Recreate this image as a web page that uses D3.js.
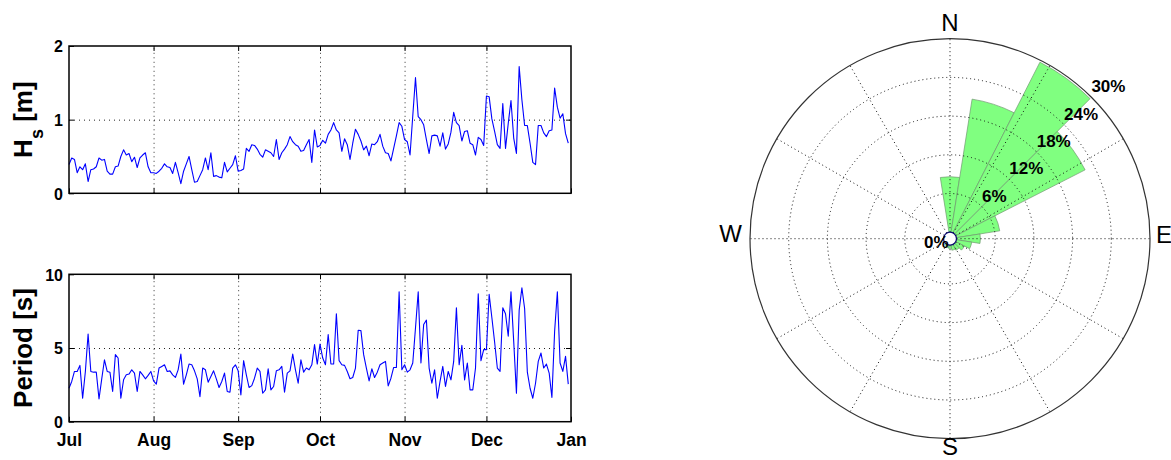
<!DOCTYPE html>
<html>
<head>
<meta charset="utf-8">
<script src="https://cdn.jsdelivr.net/npm/d3@7"></script>
<style>
  body { margin: 0; background: #fff; }
  svg { display: block; font-family: "Liberation Sans", Arial, Helvetica, sans-serif; }
</style>
</head>
<body>
<svg id="svg" width="1171" height="460"></svg>
<script>
const svg = d3.select("#svg");

// month tick labels, Jul 1 -> Jan 1
const monthLabels = ["Jul", "Aug", "Sep", "Oct", "Nov", "Dec", "Jan"];

// daily significant wave height [m]
const hsValues = [
  0.39, 0.48, 0.46, 0.28, 0.36, 0.32, 0.40, 0.16, 0.32, 0.33,
  0.36, 0.48, 0.45, 0.46, 0.30, 0.26, 0.26, 0.36, 0.37, 0.50,
  0.59, 0.52, 0.54, 0.43, 0.49, 0.35, 0.48, 0.52, 0.55, 0.36,
  0.28, 0.28, 0.27, 0.30, 0.34, 0.40, 0.36, 0.35, 0.27, 0.42,
  0.28, 0.13, 0.30, 0.40, 0.50, 0.32, 0.15, 0.16, 0.24, 0.32,
  0.48, 0.32, 0.55, 0.23, 0.24, 0.22, 0.21, 0.42, 0.29, 0.34,
  0.39, 0.51, 0.30, 0.31, 0.33, 0.61, 0.57, 0.66, 0.65, 0.60,
  0.53, 0.49, 0.59, 0.57, 0.55, 0.50, 0.73, 0.46, 0.55, 0.60,
  0.66, 0.77, 0.70, 0.66, 0.64, 0.57, 0.58, 0.66, 0.73, 0.42,
  0.86, 0.63, 0.65, 0.72, 0.68, 0.80, 0.86, 0.96, 0.86, 0.82,
  0.57, 0.74, 0.66, 0.46, 0.68, 0.87, 0.80, 0.71, 0.59, 0.64,
  0.51, 0.67, 0.66, 0.70, 0.80, 0.64, 0.55, 0.54, 0.44, 0.61,
  0.78, 0.96, 0.91, 0.73, 0.70, 0.52, 1.05, 1.57, 1.04, 1.00,
  0.93, 0.73, 0.54, 0.78, 0.79, 0.78, 0.64, 0.82, 0.60, 0.67,
  0.83, 1.10, 0.96, 0.92, 0.71, 0.84, 0.85, 0.68, 0.66, 0.52,
  0.76, 0.73, 0.65, 1.32, 1.31, 1.01, 0.84, 0.66, 0.61, 1.22,
  0.61, 0.95, 1.26, 0.75, 0.54, 1.72, 1.27, 0.92, 0.92, 0.68,
  0.42, 0.39, 0.92, 0.92, 0.82, 0.77, 0.85, 0.86, 1.43, 1.17,
  1.02, 1.08, 0.81, 0.68
];

// daily wave period [s]
const periodValues = [
  2.27, 2.73, 3.41, 3.41, 3.82, 1.59, 3.41, 5.95, 3.41, 3.36,
  3.36, 1.55, 2.91, 4.20, 3.41, 3.36, 2.05, 4.55, 4.32, 1.59,
  2.84, 3.18, 3.23, 3.52, 3.30, 2.05, 3.41, 3.18, 2.91, 3.14,
  3.41, 2.77, 2.55, 3.64, 3.75, 3.86, 3.41, 3.45, 3.18, 3.00,
  3.52, 4.59, 2.55, 3.18, 3.91, 3.86, 3.45, 2.91, 1.70, 3.64,
  3.52, 2.68, 3.07, 3.45, 2.91, 2.32, 2.73, 3.30, 2.05, 2.00,
  3.64, 3.86, 3.45, 1.82, 4.14, 3.18, 2.32, 2.45, 2.95, 3.64,
  3.41, 1.93, 2.16, 3.59, 2.16, 2.39, 3.45, 3.52, 3.75, 2.00,
  3.30, 3.45, 4.59, 3.52, 2.61, 4.20, 3.36, 3.64, 3.52, 3.86,
  5.23, 3.91, 5.27, 4.32, 3.86, 5.91, 3.91, 3.91, 7.32, 4.14,
  3.86, 3.82, 3.41, 2.91, 3.00, 3.64, 6.20, 6.18, 4.55, 3.64,
  2.77, 3.59, 3.00, 3.36, 3.86, 3.98, 4.09, 2.43, 2.95, 3.68,
  3.68, 8.82, 3.52, 3.86, 3.36, 3.52, 3.98, 6.36, 8.82, 3.98,
  6.59, 6.89, 3.64, 2.61, 3.52, 1.59, 2.73, 3.75, 2.39, 3.41,
  2.84, 4.09, 7.73, 3.86, 5.18, 2.84, 3.98, 2.16, 2.16, 3.64,
  8.68, 4.14, 4.89, 4.89, 8.64, 7.05, 5.41, 3.64, 3.41, 7.73,
  7.32, 5.80, 8.82, 5.45, 1.93, 7.55, 9.09, 7.68, 3.36, 2.27,
  1.59, 2.61, 4.09, 4.66, 3.64, 3.91, 3.30, 1.64, 6.14, 8.82,
  3.98, 3.41, 4.43, 2.55
];

// wind rose: direction bin centres (deg from N, 18 deg bins) and frequency [%]
const roseDirections = [0, 18, 36, 54, 72, 90, 108, 126, 144, 162, 180, 198, 216, 234, 252, 270, 288, 306, 324, 342];
const roseFrequency = [8.6, 20.9, 29.7, 22.5, 6.8, 3.7, 2.4, 1.5, 1.0, 0.8, 0.5, 0.4, 0.2, 0, 0, 0, 0, 0, 0, 0];
const ringValues = [0, 6, 12, 18, 24, 30];
const compassLabels = ["N", "E", "S", "W"];

const font = '"Liberation Sans", Arial, Helvetica, sans-serif';

// ---------- time series panels ----------
const dayToDate = (i) => new Date(Date.UTC(2013, 6, 1 + i));
const monthTicks = monthLabels.map((m, i) => new Date(Date.UTC(2013, 6 + i, 1)));

const left = 69;
const right = 571;
const x = d3.scaleUtc().domain([monthTicks[0], monthTicks[monthTicks.length - 1]]).range([left, right]);

function drawPanel({ top, bottom, values, yMax, yTicks, label, showX }) {
  const y = d3.scaleLinear().domain([0, yMax]).range([bottom, top]);
  const g = svg.append("g");
  const h = bottom - top;
  const w = right - left;

  // dotted grid
  const innerX = monthTicks.slice(1, -1);
  const innerY = yTicks.slice(1, -1);
  g.append("g")
    .attr("transform", `translate(0,${bottom})`)
    .call(d3.axisBottom(x).tickValues(innerX).tickSizeInner(-h).tickSizeOuter(0).tickFormat(""))
    .call((a) => a.select(".domain").remove())
    .call((a) => a.selectAll("line").attr("stroke", "#333").attr("stroke-dasharray", "1,3.5"));
  g.append("g")
    .attr("transform", `translate(${left},0)`)
    .call(d3.axisLeft(y).tickValues(innerY).tickSizeInner(-w).tickSizeOuter(0).tickFormat(""))
    .call((a) => a.select(".domain").remove())
    .call((a) => a.selectAll("line").attr("stroke", "#222").attr("stroke-dasharray", "1,4"));

  // the series
  const line = d3.line()
    .x((d, i) => x(dayToDate(i)))
    .y((d) => y(d));
  g.append("path")
    .datum(values)
    .attr("fill", "none")
    .attr("stroke", "#0000ff")
    .attr("stroke-width", 1.1)
    .attr("stroke-linejoin", "round")
    .attr("d", line);

  // inward ticks on all four sides
  const tickLines = (a) => {
    a.select(".domain").remove();
    a.selectAll("line").attr("stroke", "#000");
  };
  g.append("g").attr("transform", `translate(0,${top})`)
    .call(d3.axisTop(x).tickValues(innerX).tickSizeInner(-5).tickSizeOuter(0).tickFormat(""))
    .call(tickLines);
  g.append("g").attr("transform", `translate(${right},0)`)
    .call(d3.axisRight(y).tickValues(innerY).tickSizeInner(-5).tickSizeOuter(0).tickFormat(""))
    .call(tickLines);

  const xAxis = g.append("g").attr("transform", `translate(0,${bottom})`)
    .call(d3.axisBottom(x).tickValues(monthTicks).tickSizeInner(-5).tickSizeOuter(0).tickPadding(12)
      .tickFormat((d, i) => (showX ? monthLabels[i] : "")))
    .call(tickLines);
  xAxis.selectAll("text")
    .attr("fill", "#000")
    .style("font-family", font)
    .style("font-size", "17.5px")
    .style("font-weight", "bold");

  const yAxis = g.append("g").attr("transform", `translate(${left},0)`)
    .call(d3.axisLeft(y).tickValues(yTicks).tickSizeInner(-5).tickSizeOuter(0).tickPadding(6)
      .tickFormat(d3.format("d")))
    .call(tickLines);
  yAxis.selectAll("text")
    .attr("fill", "#000")
    .attr("dy", "0.36em")
    .style("font-family", font)
    .style("font-size", "16px")
    .style("font-weight", "bold");

  // box
  g.append("rect")
    .attr("x", left).attr("y", top)
    .attr("width", w).attr("height", h)
    .attr("fill", "none")
    .attr("stroke", "#000")
    .attr("stroke-width", 1.5);

  // rotated axis label
  const t = g.append("text")
    .attr("transform", `translate(32,${(top + bottom) / 2}) rotate(-90)`)
    .attr("text-anchor", "middle")
    .style("font-family", font)
    .style("font-size", "26px")
    .style("font-weight", "bold")
    .attr("fill", "#000");
  label.forEach((part) => {
    t.append("tspan")
      .attr("dy", part.dy || 0)
      .style("font-size", part.size || null)
      .text(part.text);
  });
}

drawPanel({
  top: 46,
  bottom: 193.3,
  values: hsValues,
  yMax: 2,
  yTicks: [0, 1, 2],
  label: [{ text: "H" }, { text: "s", size: "18px", dy: 11 }, { text: " [m]", dy: -11 }],
  showX: false,
});

drawPanel({
  top: 274.3,
  bottom: 421.7,
  values: periodValues,
  yMax: 10,
  yTicks: [0, 5, 10],
  label: [{ text: "Period [s]" }],
  showX: true,
});

// ---------- wind rose ----------
const cx = 950;
const cy = 238.7;
const R = 200;
const r0 = 6.5;
const binWidth = 18;
const rad = (deg) => (deg * Math.PI) / 180;

const r = d3.scaleLinear().domain([0, 30]).range([r0, R]);

const rose = svg.append("g").attr("transform", `translate(${cx},${cy})`);

const petal = d3.arc()
  .innerRadius(0)
  .outerRadius((d) => r(d.f))
  .startAngle((d) => rad(d.dir - binWidth / 2))
  .endAngle((d) => rad(d.dir + binWidth / 2));

rose.selectAll("path.petal")
  .data(roseDirections.map((dir, i) => ({ dir, f: roseFrequency[i] })).filter((d) => d.f > 0))
  .join("path")
  .attr("class", "petal")
  .attr("d", petal)
  .attr("fill", "#80ff80")
  .attr("stroke", "#6f9a6f")
  .attr("stroke-width", 0.7);

// dotted rings
rose.selectAll("circle.ring")
  .data(ringValues.slice(1, -1))
  .join("circle")
  .attr("class", "ring")
  .attr("r", (d) => r(d))
  .attr("fill", "none")
  .attr("stroke", "#111")
  .attr("stroke-width", 1)
  .attr("stroke-dasharray", "1,3");

// dotted spokes every 30 degrees
rose.selectAll("line.spoke")
  .data(d3.range(0, 360, 30))
  .join("line")
  .attr("class", "spoke")
  .attr("x1", (a) => r0 * Math.sin(rad(a)))
  .attr("y1", (a) => -r0 * Math.cos(rad(a)))
  .attr("x2", (a) => R * Math.sin(rad(a)))
  .attr("y2", (a) => -R * Math.cos(rad(a)))
  .attr("stroke", "#111")
  .attr("stroke-width", 1)
  .attr("stroke-dasharray", "1,3");

// outer circle
rose.append("circle")
  .attr("r", r(30))
  .attr("fill", "none")
  .attr("stroke", "#333")
  .attr("stroke-width", 1.2);

// centre hole
rose.append("circle")
  .attr("r", r0)
  .attr("fill", "#fff")
  .attr("stroke", "#0a0a70")
  .attr("stroke-width", 1.3);

// ring labels along 45 degrees
rose.selectAll("text.ringlabel")
  .data(ringValues)
  .join("text")
  .attr("class", "ringlabel")
  .attr("x", (d) => (d === 0 ? -1.5 : r(d) * Math.sin(rad(45))))
  .attr("y", (d) => (d === 0 ? 9.6 : -r(d) * Math.cos(rad(45)) - 5))
  .attr("text-anchor", (d) => (d === 0 ? "end" : "start"))
  .style("font-family", font)
  .style("font-size", "17px")
  .style("font-weight", "bold")
  .attr("fill", "#000")
  .text((d) => d + "%");

// compass letters
const compassPos = [
  { x: 0, y: -R - 8, anchor: "middle" },
  { x: R + 6, y: 4, anchor: "start" },
  { x: 0, y: R + 16, anchor: "middle" },
  { x: -R - 8, y: 3, anchor: "end" },
];
rose.selectAll("text.compass")
  .data(compassLabels)
  .join("text")
  .attr("class", "compass")
  .attr("x", (d, i) => compassPos[i].x)
  .attr("y", (d, i) => compassPos[i].y)
  .attr("text-anchor", (d, i) => compassPos[i].anchor)
  .style("font-family", font)
  .style("font-size", "24px")
  .attr("fill", "#000")
  .text((d) => d);
</script>
</body>
</html>
